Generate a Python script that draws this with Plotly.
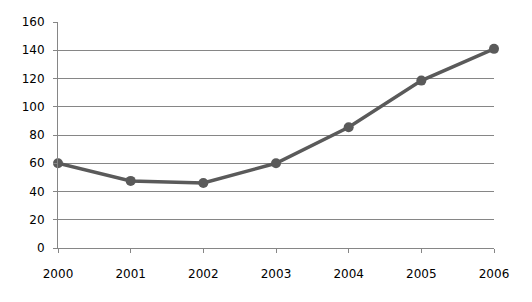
import plotly.graph_objects as go

years = [2000, 2001, 2002, 2003, 2004, 2005, 2006]
values = [60, 47.5, 46, 60, 85.5, 118.5, 141]
y_ticks = [0, 20, 40, 60, 80, 100, 120, 140, 160]

fig = go.Figure()
fig.add_trace(go.Scatter(
    x=years, y=values, mode="lines+markers",
    line=dict(color="#5a5a5a", width=3.5),
    marker=dict(color="#5a5a5a", size=10),
    cliponaxis=False, showlegend=False,
))

fig.update_layout(
    width=532, height=302,
    margin=dict(l=58, r=38, t=22, b=54),
    paper_bgcolor="white", plot_bgcolor="white",
    font=dict(family="DejaVu Sans", size=12, color="black"),
    xaxis=dict(
        range=[2000, 2006], tickmode="array", tickvals=years,
        ticktext=[str(y) for y in years],
        showgrid=False, showline=True, linecolor="#868686", linewidth=1,
        ticks="outside", ticklen=4, tickcolor="#868686",
        ticklabelstandoff=11, zeroline=False,
    ),
    yaxis=dict(
        range=[0, 160], tickmode="array", tickvals=y_ticks,
        showgrid=True, gridcolor="#868686", gridwidth=1,
        showline=True, linecolor="#868686", linewidth=1,
        ticks="outside", ticklen=4, tickcolor="#868686",
        ticklabelstandoff=6, zeroline=False,
    ),
)

fig.write_html("out.html")
